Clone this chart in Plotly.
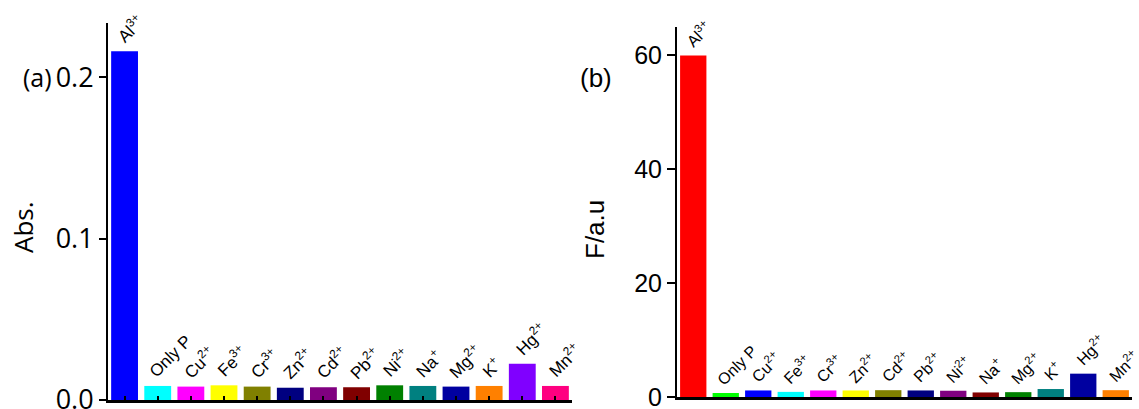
import plotly.graph_objects as go

# ---- data ----
labels_a = ["Al<sup>3+</sup>", "Only P", "Cu<sup>2+</sup>", "Fe<sup>3+</sup>", "Cr<sup>3+</sup>",
            "Zn<sup>2+</sup>", "Cd<sup>2+</sup>", "Pb<sup>2+</sup>", "Ni<sup>2+</sup>", "Na<sup>+</sup>",
            "Mg<sup>2+</sup>", "K<sup>+</sup>", "Hg<sup>2+</sup>", "Mn<sup>2+</sup>"]
abs_values = [0.216, 0.0087, 0.0083, 0.0091, 0.0083, 0.0076, 0.0079, 0.0079,
              0.0091, 0.0087, 0.0083, 0.0087, 0.0225, 0.0087]
colors_a = ["#0000FF", "#00FFFF", "#FF00FF", "#FFFF00", "#808000", "#000080", "#800080",
            "#800000", "#008000", "#008080", "#0000A0", "#FF8000", "#8000FF", "#FF0080"]

labels_b = labels_a
fl_values = [60.0, 0.7, 1.15, 0.9, 1.15, 1.15, 1.2, 1.15, 1.1, 0.8, 0.85, 1.4, 4.1, 1.2]
colors_b = ["#FF0000", "#00FF00", "#0000FF", "#00FFFF", "#FF00FF", "#FFFF00", "#808000",
            "#000080", "#800080", "#800000", "#008000", "#008080", "#0000A0", "#FF8000"]

yticks_a = [0.0, 0.1, 0.2]
yticks_b = [0, 20, 40, 60]

idx = list(range(len(labels_a)))

fig = go.Figure()
fig.add_trace(go.Bar(x=idx, y=abs_values, marker=dict(color=colors_a, line=dict(width=0)),
                     xaxis="x", yaxis="y", showlegend=False))
fig.add_trace(go.Bar(x=idx, y=fl_values, marker=dict(color=colors_b, line=dict(width=0)),
                     xaxis="x2", yaxis="y2", showlegend=False))

annotations = []
for i, (lab, v) in enumerate(zip(labels_a, abs_values)):
    annotations.append(dict(x=i - 0.45, y=v, xref="x", yref="y", text=lab, showarrow=False,
                            textangle=-45, xanchor="left", yanchor="bottom", yshift=2,
                            font=dict(family="Liberation Sans, Arial", size=17, color="black")))
for i, (lab, v) in enumerate(zip(labels_b, fl_values)):
    annotations.append(dict(x=i - 0.45, y=v, xref="x2", yref="y2", text=lab, showarrow=False,
                            textangle=-45, xanchor="left", yanchor="bottom", yshift=2,
                            font=dict(family="Liberation Sans, Arial", size=16, color="black")))

# panel labels and axis titles
annotations += [
    dict(x=37 / 1139, y=1 - 77 / 409, xref="paper", yref="paper", text="(a)", showarrow=False,
         xanchor="center", yanchor="middle", font=dict(family="Open Sans", size=25, color="black")),
    dict(x=596 / 1139, y=1 - 78 / 409, xref="paper", yref="paper", text="(b)", showarrow=False,
         xanchor="center", yanchor="middle", font=dict(family="Liberation Sans, Arial", size=26, color="black")),
    dict(x=23 / 1139, y=1 - 227 / 409, xref="paper", yref="paper", text="Abs.", showarrow=False,
         textangle=-90, xanchor="center", yanchor="middle",
         font=dict(family="Open Sans", size=26, color="black")),
    dict(x=595 / 1139, y=1 - 230 / 409, xref="paper", yref="paper", text="F/a.u", showarrow=False,
         textangle=-90, xanchor="center", yanchor="middle",
         font=dict(family="Liberation Sans, Arial", size=26, color="black")),
]

fig.update_layout(
    width=1139, height=409,
    margin=dict(l=0, r=0, t=0, b=0),
    paper_bgcolor="white", plot_bgcolor="white",
    bargap=0.19,
    annotations=annotations,
    xaxis=dict(domain=[108 / 1139, 572 / 1139], range=[-0.5, 13.5], showgrid=False, zeroline=False,
               showline=True, linecolor="black", linewidth=2.5, showticklabels=False,
               ticks="inside", tickson="boundaries", ticklen=4, tickwidth=2, tickcolor="black",
               tickvals=idx, anchor="y", fixedrange=True),
    yaxis=dict(domain=[1 - 400 / 409, 1 - 23 / 409], range=[0, 0.2335], showgrid=False, zeroline=False,
               showline=True, linecolor="black", linewidth=2, ticks="outside", ticklen=7, tickwidth=2,
               tickcolor="black", tickvals=yticks_a, tickformat=".1f", anchor="x",
               ticklabeloverflow="allow",
               tickfont=dict(family="Open Sans", size=27, color="black"), automargin=False),
    xaxis2=dict(domain=[677 / 1139, 1132 / 1139], range=[-0.5, 13.5], showgrid=False, zeroline=False,
                showline=True, linecolor="black", linewidth=2.5, showticklabels=False, ticks="",
                anchor="y2", fixedrange=True),
    yaxis2=dict(domain=[1 - 397 / 409, 1 - 27 / 409], range=[0, 65], showgrid=False, zeroline=False,
                showline=True, linecolor="black", linewidth=2, ticks="outside", ticklen=8, tickwidth=2,
                tickcolor="black", tickvals=yticks_b, anchor="x2",
                ticklabeloverflow="allow",
                tickfont=dict(family="Liberation Sans, Arial", size=25, color="black"), automargin=False),
)

fig.write_html("out.html", config={"displayModeBar": False},
               post_script="document.body.style.margin='0';document.body.style.overflow='hidden';")
